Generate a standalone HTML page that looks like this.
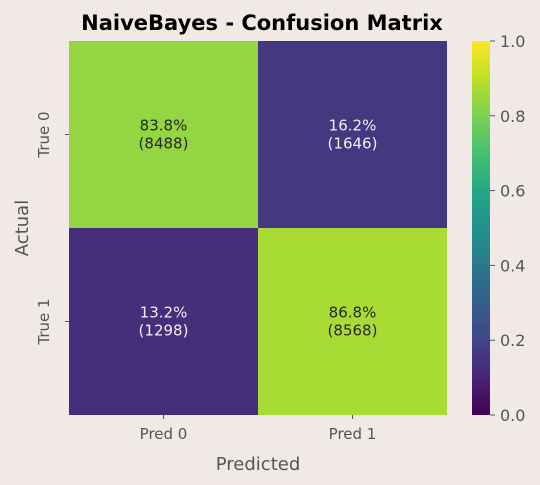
<!DOCTYPE html>
<html><head><meta charset="utf-8"><style>
body{margin:0;background:#f1e9e5;font-family:"DejaVu Sans","Liberation Sans",sans-serif;}
svg{display:block}
</style></head><body>
<svg id="c" width="540" height="485">
<defs><linearGradient id="vir" x1="0" y1="1" x2="0" y2="0">
<stop offset="0" stop-color="#440154"/><stop offset="0.1" stop-color="#482475"/><stop offset="0.2" stop-color="#414487"/><stop offset="0.3" stop-color="#355f8d"/><stop offset="0.4" stop-color="#2a788e"/><stop offset="0.5" stop-color="#21918c"/><stop offset="0.6" stop-color="#22a884"/><stop offset="0.7" stop-color="#44bf70"/><stop offset="0.8" stop-color="#7ad151"/><stop offset="0.9" stop-color="#bddf26"/><stop offset="1" stop-color="#fde725"/>
</linearGradient></defs>
<text x="262" y="30" text-anchor="middle" font-size="21" font-weight="bold" fill="#000">NaiveBayes - Confusion Matrix</text>
<g id="cells"></g>
<rect x="472" y="41" width="18" height="374" fill="url(#vir)"/>
<g id="cbticks"></g>
<text x="258" y="470" text-anchor="middle" font-size="18" fill="#555">Predicted</text>
<text transform="translate(28,228) rotate(-90)" text-anchor="middle" font-size="18" fill="#555">Actual</text>
</svg>
<script>
const colLabels=["Pred 0","Pred 1"];
const rowLabels=["True 0","True 1"];
const percents=[[83.8,16.2],[13.2,86.8]];
const counts=[[8488,1646],[1298,8568]];
const cbTicks=[0.0,0.2,0.4,0.6,0.8,1.0];
const NS="http://www.w3.org/2000/svg";
const x0=69,x1=447,y0=41,y1=415;
const cw=(x1-x0)/colLabels.length,ch=(y1-y0)/rowLabels.length;
const stops=[[68,1,84],[72,36,117],[65,68,135],[53,95,141],[42,120,142],[33,145,140],[34,168,132],[68,191,112],[122,209,81],[189,223,38],[253,231,37]];
function vir(v){v=Math.max(0,Math.min(1,v))*10;const i=Math.min(9,Math.floor(v)),f=v-i;const a=stops[i],b=stops[i+1];return `rgb(${a.map((c,k)=>Math.round(c+(b[k]-c)*f)).join(',')})`;}
function el(t,a,p){const e=document.createElementNS(NS,t);for(const k in a)e.setAttribute(k,a[k]);p.appendChild(e);return e;}
const svg=document.getElementById('c'),g=document.getElementById('cells');
rowLabels.forEach((r,i)=>{colLabels.forEach((c,j)=>{
 const v=percents[i][j]/100;
 const rc=el('rect',{x:x0+j*cw,y:y0+i*ch,width:cw,height:ch,fill:vir(v)},g);
 
 
 const col=v>0.5?'#262626':'#f0f0f0';
 const cx=x0+(j+0.5)*cw,cy=y0+(i+0.5)*ch;
 const t=el('text',{x:cx,y:cy-4,'text-anchor':'middle','font-size':15,fill:col},g);t.textContent=percents[i][j].toFixed(1)+'%';
 
 
 const t2=el('text',{x:cx,y:cy+14,'text-anchor':'middle','font-size':15,fill:col},g);t2.textContent='('+counts[i][j]+')';
 
 
});});
colLabels.forEach((c,j)=>{const cx=x0+(j+0.5)*cw;
 el('line',{x1:cx,x2:cx,y1:y1,y2:y1+4,stroke:'#555'},svg);
 const t=el('text',{x:cx,y:y1+24,'text-anchor':'middle','font-size':15,fill:'#555'},svg);t.textContent=c;
 
 });
rowLabels.forEach((r,i)=>{const cy=y0+(i+0.5)*ch;
 el('line',{x1:x0-4,x2:x0,y1:cy,y2:cy,stroke:'#555'},svg);
 const t=el('text',{transform:`translate(${x0-20},${cy}) rotate(-90)`,'text-anchor':'middle','font-size':15,fill:'#555'},svg);t.textContent=r;
 
 });
const cb=document.getElementById('cbticks');
cbTicks.forEach(v=>{const y=y1-v*(y1-y0);
 el('line',{x1:490,x2:495,y1:y,y2:y,stroke:'#555'},cb);
 const t=el('text',{x:500,y:y+6,'font-size':16,fill:'#555'},cb);t.textContent=v.toFixed(1);
 
 });
</script>
</body></html>
